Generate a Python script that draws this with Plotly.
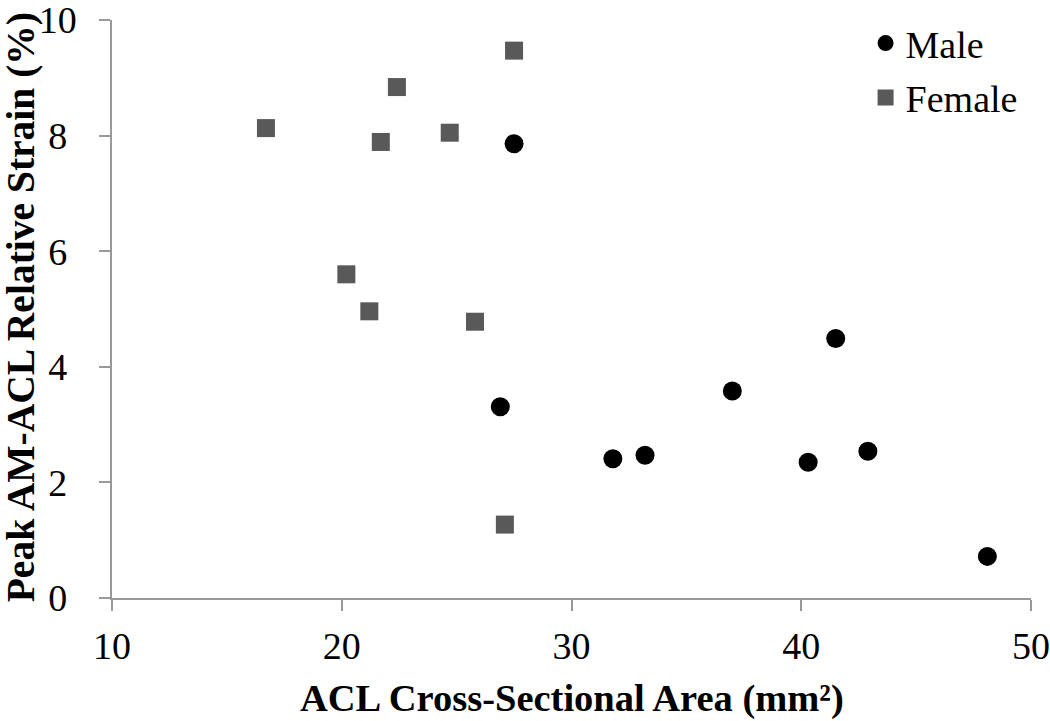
import plotly.graph_objects as go

male_x = [27.5, 26.9, 31.8, 33.2, 37.0, 40.3, 41.5, 42.9, 48.1]
male_y = [7.86, 3.31, 2.41, 2.47, 3.58, 2.35, 4.49, 2.54, 0.72]
female_x = [16.7, 22.4, 27.5, 21.7, 24.7, 20.2, 21.2, 25.8, 27.1]
female_y = [8.13, 8.84, 9.47, 7.89, 8.05, 5.60, 4.96, 4.78, 1.27]

x_ticks = [10, 20, 30, 40, 50]
y_ticks = [0, 2, 4, 6, 8, 10]

x_title = "ACL Cross-Sectional Area (mm²)"
y_title = "Peak AM-ACL Relative Strain (%)"

FONT = "Liberation Serif"

# y tick labels visually centred (pad single digits by a quarter-em space)
y_ticktext = [str(v) if v >= 10 else str(v) + "\u2005" for v in y_ticks]

fig = go.Figure()
fig.add_trace(go.Scatter(
    x=male_x, y=male_y, mode="markers", name="Male",
    marker=dict(symbol="circle", size=19, color="#000000"),
    legendgroup="m",
))
fig.add_trace(go.Scatter(
    x=female_x, y=female_y, mode="markers", name="Female",
    marker=dict(symbol="square", size=18, color="#595959"),
    legendgroup="f",
))

axis_common = dict(
    showgrid=False, zeroline=False, showline=True, automargin=False,
    linecolor="#999999", linewidth=1.5,
    ticks="outside", ticklen=11, tickwidth=1.5, tickcolor="#999999",
    tickfont=dict(family=FONT, size=38, color="#000000"),
    ticklabeloverflow="allow",
)

fig.update_layout(
    width=1050, height=721,
    margin=dict(l=112, r=19, t=12, b=123),
    paper_bgcolor="white", plot_bgcolor="white",
    xaxis=dict(range=[10, 50], tickvals=x_ticks, ticklabelstandoff=3,
               **axis_common),
    yaxis=dict(range=[0, 10], tickvals=y_ticks, ticktext=y_ticktext,
               ticklabelstandoff=15, **axis_common),
    legend=dict(x=0.82, y=1.014, xanchor="left", yanchor="top",
                font=dict(family=FONT, size=38, color="#000000"),
                bgcolor="rgba(0,0,0,0)", tracegroupgap=2),
    showlegend=True,
    annotations=[
        dict(text="<b>" + x_title + "</b>", xref="paper", yref="paper",
             x=0.5, y=-0.174, xanchor="center", yanchor="middle",
             showarrow=False, font=dict(family=FONT, size=38.5, color="#000000")),
        dict(text="<b>" + y_title + "</b>", xref="paper", yref="paper",
             x=-0.099, y=0.503, xanchor="center", yanchor="middle", textangle=-90,
             showarrow=False, font=dict(family=FONT, size=39.5, color="#000000")),
    ],
)

fig.write_html("out.html", config={"displayModeBar": False},
               post_script="document.body.style.margin='0';document.body.style.overflow='hidden';")
